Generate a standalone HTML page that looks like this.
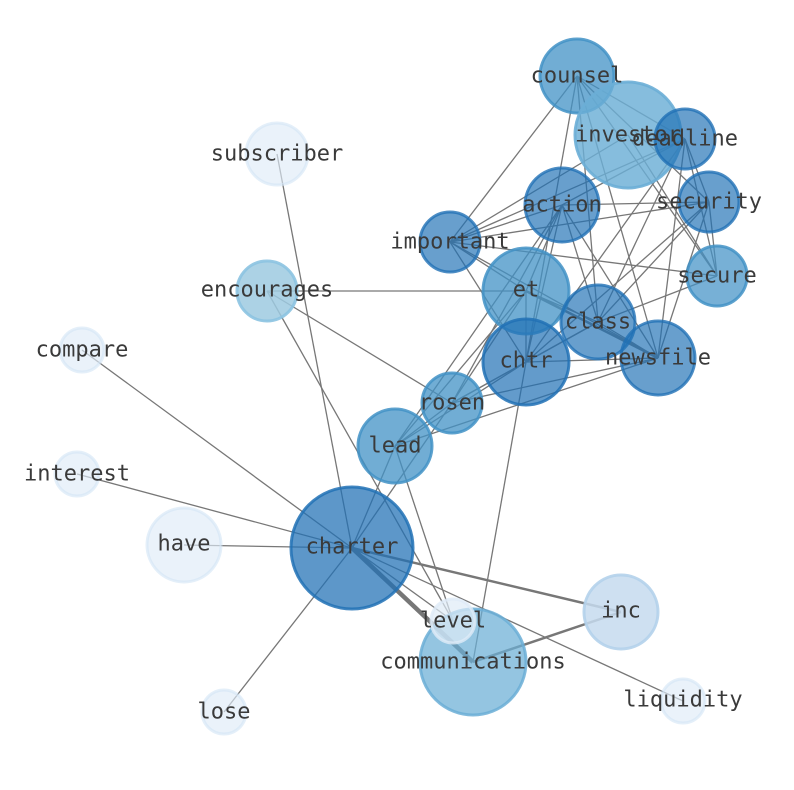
<!DOCTYPE html>
<html><head><meta charset="utf-8"><style>
html,body{margin:0;padding:0;background:#fff;}
svg{display:block;}
text{font-family:"DejaVu Sans Mono","Liberation Mono",monospace;font-size:22px;fill:#3a3a3a;text-anchor:middle;dominant-baseline:central;}
</style></head><body>
<svg width="794" height="790" viewBox="0 0 794 790" xmlns="http://www.w3.org/2000/svg">
<g stroke="#777" stroke-width="1.3" fill="none">
<line x1="577" y1="76" x2="450" y2="242"/>
<line x1="577" y1="76" x2="685" y2="139"/>
<line x1="577" y1="76" x2="709" y2="202"/>
<line x1="577" y1="76" x2="717" y2="276"/>
<line x1="577" y1="76" x2="598" y2="322"/>
<line x1="577" y1="76" x2="658" y2="358"/>
<line x1="577" y1="76" x2="526" y2="362"/>
<line x1="685" y1="139" x2="562" y2="205"/>
<line x1="685" y1="139" x2="450" y2="242"/>
<line x1="685" y1="139" x2="526" y2="362"/>
<line x1="685" y1="139" x2="598" y2="322"/>
<line x1="685" y1="139" x2="658" y2="358"/>
<line x1="685" y1="139" x2="709" y2="202"/>
<line x1="685" y1="139" x2="717" y2="276"/>
<line x1="628" y1="135" x2="450" y2="242"/>
<line x1="628" y1="135" x2="717" y2="276"/>
<line x1="709" y1="202" x2="562" y2="205"/>
<line x1="709" y1="202" x2="450" y2="242"/>
<line x1="709" y1="202" x2="526" y2="362"/>
<line x1="709" y1="202" x2="598" y2="322"/>
<line x1="709" y1="202" x2="658" y2="358"/>
<line x1="709" y1="202" x2="717" y2="276"/>
<line x1="562" y1="205" x2="450" y2="242"/>
<line x1="562" y1="205" x2="526" y2="291"/>
<line x1="562" y1="205" x2="526" y2="362"/>
<line x1="562" y1="205" x2="598" y2="322"/>
<line x1="562" y1="205" x2="658" y2="358"/>
<line x1="562" y1="205" x2="452" y2="403"/>
<line x1="562" y1="205" x2="395" y2="446"/>
<line x1="450" y1="242" x2="526" y2="291"/>
<line x1="450" y1="242" x2="717" y2="276"/>
<line x1="450" y1="242" x2="658" y2="358"/>
<line x1="450" y1="242" x2="526" y2="362"/>
<line x1="526" y1="291" x2="267" y2="291"/>
<line x1="526" y1="291" x2="598" y2="322"/>
<line x1="526" y1="291" x2="658" y2="358" stroke-width="2.5"/>
<line x1="526" y1="291" x2="526" y2="362"/>
<line x1="526" y1="291" x2="452" y2="403"/>
<line x1="526" y1="291" x2="395" y2="446"/>
<line x1="526" y1="362" x2="658" y2="358"/>
<line x1="526" y1="362" x2="452" y2="403"/>
<line x1="526" y1="362" x2="395" y2="446"/>
<line x1="526" y1="362" x2="598" y2="322"/>
<line x1="526" y1="362" x2="473" y2="662"/>
<line x1="598" y1="322" x2="658" y2="358"/>
<line x1="598" y1="322" x2="717" y2="276"/>
<line x1="598" y1="322" x2="452" y2="403"/>
<line x1="658" y1="358" x2="452" y2="403"/>
<line x1="658" y1="358" x2="395" y2="446"/>
<line x1="267" y1="291" x2="452" y2="403"/>
<line x1="267" y1="291" x2="453" y2="621"/>
<line x1="452" y1="403" x2="395" y2="446"/>
<line x1="395" y1="446" x2="453" y2="621"/>
<line x1="352" y1="548" x2="395" y2="446"/>
<line x1="352" y1="548" x2="452" y2="403"/>
<line x1="352" y1="548" x2="277" y2="154"/>
<line x1="352" y1="548" x2="82" y2="350"/>
<line x1="352" y1="548" x2="77" y2="474"/>
<line x1="352" y1="548" x2="184" y2="545"/>
<line x1="352" y1="548" x2="224" y2="712"/>
<line x1="352" y1="548" x2="621" y2="612" stroke-width="2.5"/>
<line x1="352" y1="548" x2="473" y2="662" stroke-width="4.5"/>
<line x1="352" y1="548" x2="453" y2="621"/>
<line x1="352" y1="548" x2="683" y2="701"/>
<line x1="473" y1="662" x2="621" y2="612" stroke-width="2.5"/>
</g>
<g stroke-width="3">
<circle cx="277" cy="154" r="31" fill="rgba(222,235,247,0.65)" stroke="rgba(210,228,245,0.6)"/>
<circle cx="82" cy="350" r="22" fill="rgba(222,235,247,0.65)" stroke="rgba(210,228,245,0.6)"/>
<circle cx="77" cy="474" r="22" fill="rgba(222,235,247,0.65)" stroke="rgba(210,228,245,0.6)"/>
<circle cx="184" cy="545" r="37" fill="rgba(222,235,247,0.65)" stroke="rgba(210,228,245,0.6)"/>
<circle cx="224" cy="712" r="22" fill="rgba(222,235,247,0.65)" stroke="rgba(210,228,245,0.6)"/>
<circle cx="683" cy="701" r="22" fill="rgba(222,235,247,0.65)" stroke="rgba(210,228,245,0.6)"/>
<circle cx="621" cy="612" r="37" fill="rgba(198,219,239,0.85)" stroke="rgba(180,210,235,0.9)"/>
<circle cx="267" cy="291" r="30" fill="rgba(158,202,225,0.85)" stroke="rgba(140,195,225,0.9)"/>
<circle cx="473" cy="662" r="53" fill="rgba(107,174,214,0.72)" stroke="rgba(107,174,214,0.85)"/>
<circle cx="453" cy="621" r="22" fill="rgba(222,235,247,0.7)" stroke="rgba(222,235,247,0.8)"/>
<circle cx="352" cy="548" r="61" fill="rgba(33,113,181,0.73)" stroke="rgba(33,113,181,0.85)"/>
<circle cx="395" cy="446" r="37" fill="rgba(66,146,198,0.75)" stroke="rgba(66,146,198,0.85)"/>
<circle cx="452" cy="403" r="30" fill="rgba(66,146,198,0.75)" stroke="rgba(66,146,198,0.85)"/>
<circle cx="450" cy="242" r="30" fill="rgba(33,113,181,0.68)" stroke="rgba(33,113,181,0.8)"/>
<circle cx="577" cy="76" r="37" fill="rgba(66,146,198,0.75)" stroke="rgba(66,146,198,0.85)"/>
<circle cx="628" cy="135" r="53" fill="rgba(107,174,214,0.82)" stroke="rgba(107,174,214,0.9)"/>
<circle cx="685" cy="139" r="30" fill="rgba(33,113,181,0.68)" stroke="rgba(33,113,181,0.8)"/>
<circle cx="709" cy="202" r="30" fill="rgba(33,113,181,0.68)" stroke="rgba(33,113,181,0.8)"/>
<circle cx="717" cy="276" r="30" fill="rgba(66,146,198,0.72)" stroke="rgba(66,146,198,0.85)"/>
<circle cx="562" cy="205" r="37" fill="rgba(33,113,181,0.68)" stroke="rgba(33,113,181,0.8)"/>
<circle cx="526" cy="291" r="43" fill="rgba(66,146,198,0.75)" stroke="rgba(66,146,198,0.85)"/>
<circle cx="598" cy="322" r="37" fill="rgba(33,113,181,0.68)" stroke="rgba(33,113,181,0.8)"/>
<circle cx="658" cy="358" r="37" fill="rgba(33,113,181,0.68)" stroke="rgba(33,113,181,0.8)"/>
<circle cx="526" cy="362" r="43" fill="rgba(33,113,181,0.7)" stroke="rgba(33,113,181,0.85)"/>
</g>
<g>
<text x="577" y="76">counsel</text>
<text x="628" y="135">investor</text>
<text x="685" y="139">deadline</text>
<text x="709" y="202">security</text>
<text x="562" y="205">action</text>
<text x="450" y="242">important</text>
<text x="717" y="276">secure</text>
<text x="526" y="290">et</text>
<text x="598" y="322">class</text>
<text x="658" y="358">newsfile</text>
<text x="526" y="361">chtr</text>
<text x="452" y="403">rosen</text>
<text x="395" y="446">lead</text>
<text x="267" y="290">encourages</text>
<text x="277" y="154">subscriber</text>
<text x="82" y="350">compare</text>
<text x="77" y="474">interest</text>
<text x="184" y="544">have</text>
<text x="352" y="547">charter</text>
<text x="453" y="621">level</text>
<text x="473" y="662">communications</text>
<text x="621" y="611">inc</text>
<text x="683" y="700">liquidity</text>
<text x="224" y="712">lose</text>
</g>
</svg>
</body></html>
